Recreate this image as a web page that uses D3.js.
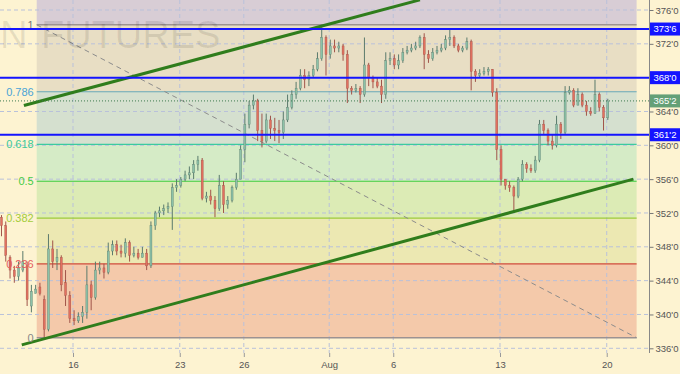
<!DOCTYPE html>
<html>
<head>
<meta charset="utf-8">
<script src="https://cdn.jsdelivr.net/npm/d3@7"></script>
<style>
  body { margin: 0; background: #fdf3d1; }
  svg { display: block; font-family: 'Liberation Sans', Arial, sans-serif; }
</style>
</head>
<body>
<div id="chart"></div>
<script>
// hourly-ish bars, 5 per trading day, starting Jul 11
var opens = [351.5,350.5,346.75,345.25,344.5,345.25,345.75,341,342.5,343.25,
  341.75,338.25,347.75,346.25,346.75,343.75,342.25,339.5,339.25,339.75,
  340.25,343.5,342,345.25,345.5,345,347.5,348.25,347.5,347.25,
  348.5,347,347.25,346.75,347.25,345.75,350.5,352,352.25,352.5,
  352.75,355,355.25,356,356.5,356.75,357.75,358.25,353.75,354,
  353.5,352.5,355.25,353,353.5,355,356,359.5,362.5,364.75,
  365.25,361.75,360.5,363,362,361.75,361.5,363,364.5,366,
  366.75,368.25,367.75,368.25,369,370.25,372.75,370.75,371.75,371.5,
  371.75,370.75,366.75,366.5,366.75,366,369.5,368,367.5,367,
  366,370,370.25,369.5,370,371,371.25,371.5,371.75,372.75,
  370.75,370.25,371,371.25,371.5,372.5,372.75,371.75,371.25,371.5,
  372.25,368.75,368.25,368.5,368.75,369,366.25,359.5,356,355.25,
  355,354,356,357.75,357.25,357,358.25,362.5,361.75,360.5,
  360,362.5,361.5,366.25,366.5,364.75,366,364.75,364,363.75,
  366,364.5,363.25];
var highs = [351.75,351,347,345.75,346.25,347.5,346.25,343.5,343.5,343.75,
  342.25,349.5,348.75,347.75,347,345.25,342.75,340.5,340.25,341,
  345.75,344,346.25,346.25,346,348.5,348.75,348.75,348.25,349,
  348.75,348,347.75,348,347.75,351,352.25,352.75,353,353.25,
  355.5,356,356.25,357,357.5,358.25,358.75,358.5,354.5,354.75,
  354,356.5,355.75,354,355.25,356.75,360,363.75,365.25,366,
  365.5,363.75,363.75,363.5,363.25,363,364,366,366.5,367.5,
  369,369,368.75,369.5,371,374.25,373,372.5,372.5,372.25,
  372,371.25,367,367.25,367,372.75,369.75,368.25,368,367.75,
  371,371,370.75,370.75,371.5,371.75,372,372.25,373,373.25,
  371.25,371.5,371.75,372,373,373.75,373,372,371.75,372.75,
  372.5,369,369,369.25,369.25,369,366.75,360,356,355.75,
  355.25,356.25,358.25,358,357.75,358.75,363,363,362,361.25,
  363.5,362.75,367,367,366.75,366.75,366.25,365.25,364.5,367.75,
  366.25,364.75,365.5];
var lows = [349.25,346.25,344.25,343.75,344,345,341,340.25,342.5,342.25,
  337.25,338,345.5,345.25,342.75,341,339,338.75,339,339,
  339.5,340.5,341.75,344.75,344.25,344.75,347,347,346.75,346.75,
  346.25,346.75,346.5,346.75,345.25,345.5,350,351.5,351.75,352,
  350,354.5,355,355.75,356,356,357,353.5,353.25,353,
  351.5,352.25,352,352.5,353.25,354.75,356,358,362,364.25,
  360.5,359.75,360.25,360.75,360.5,360.25,360.75,362.75,364.25,365.5,
  366.5,366.75,367,368,368.75,370,368.25,370.25,371,371,
  370,365,366,366.25,365,365.75,367,366.75,366.75,365,
  365.5,369.5,369,369,369.75,370.75,371,371.25,371.5,369,
  369.75,370,370.75,371,371.25,371.75,371.5,371,371,371.25,
  366.5,367.5,368,368.25,368.25,365.75,358.25,355.25,354.75,354.5,
  352.25,353.75,355.75,356.75,356.75,356.75,358,361.25,360,359.5,
  359.75,360.75,361.25,366,364.5,364.75,364.5,363.5,363.5,363.75,
  364,361.75,363];
var closes = [350.5,347,345.25,344.5,345.5,346.25,341.75,342.75,343,342.5,
  338.25,347.75,346.25,346.75,343.5,342.25,339.5,339.25,339.75,340.25,
  343.5,342,345.25,345.5,345,347.5,348.25,347.5,347.25,348.5,
  347,347.25,346.75,347.25,345.75,350.5,352,352.25,352.5,352.75,
  355,355.25,356,356.5,356.75,357.75,358.25,353.75,354,353.5,
  352.5,355.25,353,353.5,355,356,359.5,362.5,364.75,365.25,
  361.75,360.5,363,362,361.75,361.5,363,364.5,366,366.75,
  368.25,367.75,368.25,369,370.25,372.75,370.75,371.75,371.5,371.75,
  370.75,366.75,366.5,366.75,366,369.5,368,367.5,367,366,
  370,370.25,369.5,370,371,371.25,371.5,371.75,372.75,370.75,
  370.25,371,371.25,371.5,372.5,372.75,371.75,371.25,371.5,372.25,
  368.75,368.25,368.5,368.75,369,366.25,359.5,356,355.25,355,
  354,356,357.75,357.25,357,358.25,362.5,361.75,360.5,360,
  362.5,361.5,366.25,366.5,364.75,366,364.75,364,363.75,366,
  364.5,363.25,365.25];
var barStartDay = -0.35;
var barsPerDay = 5;

// x axis: trading-day index (0 = Jul 11)
var tickDays = [3, 8, 11, 15, 18, 23, 28];
var tickLabels = ['16', '23', '26', 'Aug', '6', '13', '20'];
var priceTicks = [336, 340, 344, 348, 352, 356, 360, 364, 368, 372, 376];

// fibonacci retracement
var fibHigh = 374.25;
var fibLow = 337.25;
var fibStartDay = 1.3;
var fibEndDay = 29.4;
var fibRatios = [1, 0.786, 0.618, 0.5, 0.382, 0.236, 0];
var fibLabels = ['1', '0.786', '0.618', '0.5', '0.382', '0.236', '0'];

// horizontal levels and trend channel
var levelPrices = [373.75, 368, 361.25];
var lastPrice = 365.25;
var upperTrend = [[0.7, 364.7], [19.25, 377.2]];
var lowerTrend = [[0.6, 336.4], [29.25, 356]];

function fmt(p) {
  var i = Math.floor(p);
  return i + "'" + Math.round((p - i) * 8);
}

function drawChart() {
  var width = 680, height = 374;
  var plotW = 649, plotH = 353;

  var svg = d3.select('#chart').append('svg')
    .attr('width', width)
    .attr('height', height);

  svg.append('rect')
    .attr('width', width).attr('height', height)
    .attr('fill', '#fdf3d1');

  svg.append('clipPath').attr('id', 'plot-clip')
    .append('rect').attr('width', plotW).attr('height', plotH);

  var x = d3.scaleLinear().domain([-0.42, 29.98]).range([0, plotW]);
  var y = d3.scaleLinear().domain([336, 376]).range([348.3, 10]);

  var g = svg.append('g').attr('clip-path', 'url(#plot-clip)');

  // fib zones
  var zoneColors = ['#d8cdd5', '#e8dec4', '#d5e0cf', '#d5ebc6', '#dcebb5', '#ece8b2', '#f4c9aa'];
  var fx0 = x(fibStartDay), fx1 = x(fibEndDay);
  var fibY = fibRatios.map(function(r) { return y(fibLow + r * (fibHigh - fibLow)); });
  var zoneTops = [0].concat(fibY.slice(0, -1));
  g.selectAll('.zone')
    .data(zoneTops)
    .enter().append('rect')
      .attr('x', fx0)
      .attr('y', function(d) { return d; })
      .attr('width', fx1 - fx0)
      .attr('height', function(d, i) { return fibY[i] - d; })
      .attr('fill', function(d, i) { return zoneColors[i]; });

  // watermark
  var wm = svg.append('text')
    .attr('y', 48)
    .attr('font-size', 38)
    .attr('fill', '#000')
    .attr('fill-opacity', 0.09);
  wm.append('tspan').attr('x', 0).text('N');
  wm.append('tspan').attr('x', 41).text('FUTURES');

  // grid
  g.selectAll('.hgrid')
    .data(priceTicks)
    .enter().append('line')
      .attr('x1', 0).attr('x2', plotW)
      .attr('y1', function(d) { return y(d); })
      .attr('y2', function(d) { return y(d); })
      .attr('stroke', '#b9c1da')
      .attr('stroke-dasharray', '4,3');
  g.selectAll('.vgrid')
    .data(tickDays)
    .enter().append('line')
      .attr('x1', function(d) { return x(d); })
      .attr('x2', function(d) { return x(d); })
      .attr('y1', 0).attr('y2', plotH)
      .attr('stroke', '#b9c1da')
      .attr('stroke-dasharray', '4,3');

  // fib lines + labels
  var fibLineColors = ['#9c9292', '#67a7b8', '#3ccaa0', '#3ccb3c', '#9ccb3a', '#cf4b3b', '#9c9292'];
  var fibTextColors = ['#777777', '#4aa3d6', '#3cc99a', '#46cc46', '#a4cc3c', '#e55c5c', '#888888'];
  g.selectAll('.fib')
    .data(fibY)
    .enter().append('line')
      .attr('x1', fx0).attr('x2', fx1)
      .attr('y1', function(d) { return d; })
      .attr('y2', function(d) { return d; })
      .attr('stroke', function(d, i) { return fibLineColors[i]; })
      .attr('stroke-width', function(d, i) { return (i === 0 || i === 6) ? 1.5 : 1.2; });
  svg.selectAll('.fibLabel')
    .data(fibY)
    .enter().append('text')
      .attr('x', fx0 - 3)
      .attr('y', function(d) { return d; })
      .attr('dy', '0.35em')
      .attr('text-anchor', 'end')
      .attr('font-size', 11)
      .attr('fill', function(d, i) { return fibTextColors[i]; })
      .text(function(d, i) { return fibLabels[i]; });

  // fib diagonal
  g.append('line')
    .attr('x1', fx0).attr('y1', y(fibHigh))
    .attr('x2', fx1).attr('y2', y(fibLow))
    .attr('stroke', '#8c8c8c')
    .attr('stroke-width', 1)
    .attr('stroke-dasharray', '5,4');

  // candles
  var bars = opens.map(function(o, i) {
    return { t: barStartDay + i / barsPerDay, o: o, h: highs[i], l: lows[i], c: closes[i] };
  });
  var candle = g.selectAll('.bar')
    .data(bars)
    .enter().append('g');
  candle.append('line')
    .attr('x1', function(d) { return x(d.t); })
    .attr('x2', function(d) { return x(d.t); })
    .attr('y1', function(d) { return y(d.h); })
    .attr('y2', function(d) { return y(d.l); })
    .attr('stroke', function(d) { return d.c >= d.o ? '#5a7a6c' : '#a0544a'; })
    .attr('stroke-width', 1);
  candle.append('rect')
    .attr('x', function(d) { return x(d.t) - 1; })
    .attr('width', 2)
    .attr('y', function(d) { return y(Math.max(d.o, d.c)); })
    .attr('height', function(d) { return Math.max(1, Math.abs(y(d.o) - y(d.c))); })
    .attr('fill', function(d) { return d.c >= d.o ? '#8cc2a8' : '#e2705f'; })
    .attr('stroke', function(d) { return d.c >= d.o ? '#607f71' : '#a4564b'; })
    .attr('stroke-width', 0.4);

  // trend channel
  var line = d3.line()
    .x(function(d) { return x(d[0]); })
    .y(function(d) { return y(d[1]); });
  g.selectAll('.trend')
    .data([upperTrend, lowerTrend])
    .enter().append('path')
      .attr('d', line)
      .attr('fill', 'none')
      .attr('stroke', '#2f7d1c')
      .attr('stroke-width', 3);

  // last price dotted
  svg.append('line')
    .attr('x1', 0).attr('x2', plotW)
    .attr('y1', y(lastPrice)).attr('y2', y(lastPrice))
    .attr('stroke', '#3d7a50')
    .attr('stroke-dasharray', '1,2');

  // horizontal levels
  svg.selectAll('.level')
    .data(levelPrices)
    .enter().append('line')
      .attr('x1', 0).attr('x2', width)
      .attr('y1', function(d) { return y(d); })
      .attr('y2', function(d) { return y(d); })
      .attr('stroke', '#1414ff')
      .attr('stroke-width', 2);

  // right axis
  var tagPrices = levelPrices.concat([lastPrice]);
  svg.append('line')
    .attr('x1', plotW + 0.5).attr('x2', plotW + 0.5)
    .attr('y1', 0).attr('y2', plotH)
    .attr('stroke', '#888');
  var yAxis = svg.append('g')
    .attr('transform', 'translate(' + (plotW + 0.5) + ',0)')
    .call(d3.axisRight(y).tickValues(priceTicks).tickSize(4).tickPadding(2).tickFormat(fmt));
  yAxis.select('.domain').remove();
  yAxis.selectAll('line').attr('stroke', '#777');
  yAxis.selectAll('text').attr('font-size', 9.5).attr('fill', '#555').attr('font-family', 'Liberation Sans, Arial, sans-serif');
  // a tag hides the tick label under it
  yAxis.selectAll('.tick text')
    .filter(function(d) {
      return tagPrices.some(function(p) { return Math.abs(y(p) - y(d)) < 10; });
    })
    .remove();

  // x axis
  var xAxis = svg.append('g')
    .attr('transform', 'translate(0,' + plotH + ')')
    .call(d3.axisBottom(x).tickValues(tickDays).tickSize(4).tickPadding(4)
      .tickFormat(function(d, i) { return tickLabels[i]; }));
  xAxis.select('.domain').remove();
  xAxis.selectAll('line').attr('stroke', '#999');
  xAxis.selectAll('text').attr('font-size', 9.5).attr('fill', '#555').attr('font-family', 'Liberation Sans, Arial, sans-serif');

  // price tags
  var tags = levelPrices.map(function(p) { return { p: p, fill: '#1414ff' }; })
    .concat([{ p: lastPrice, fill: '#64a077' }]);
  var tag = svg.selectAll('.tag')
    .data(tags)
    .enter().append('g')
      .attr('transform', function(d) { return 'translate(' + (plotW + 1) + ',' + y(d.p) + ')'; });
  tag.append('rect')
    .attr('x', 0).attr('y', -6.5)
    .attr('width', width - plotW - 1).attr('height', 13)
    .attr('fill', function(d) { return d.fill; });
  tag.append('text')
    .attr('x', (width - plotW - 1) / 2)
    .attr('dy', '0.35em')
    .attr('text-anchor', 'middle')
    .attr('font-size', 9.5)
    .attr('fill', '#fff')
    .text(function(d) { return fmt(d.p); });
}

drawChart();
</script>
</body>
</html>
